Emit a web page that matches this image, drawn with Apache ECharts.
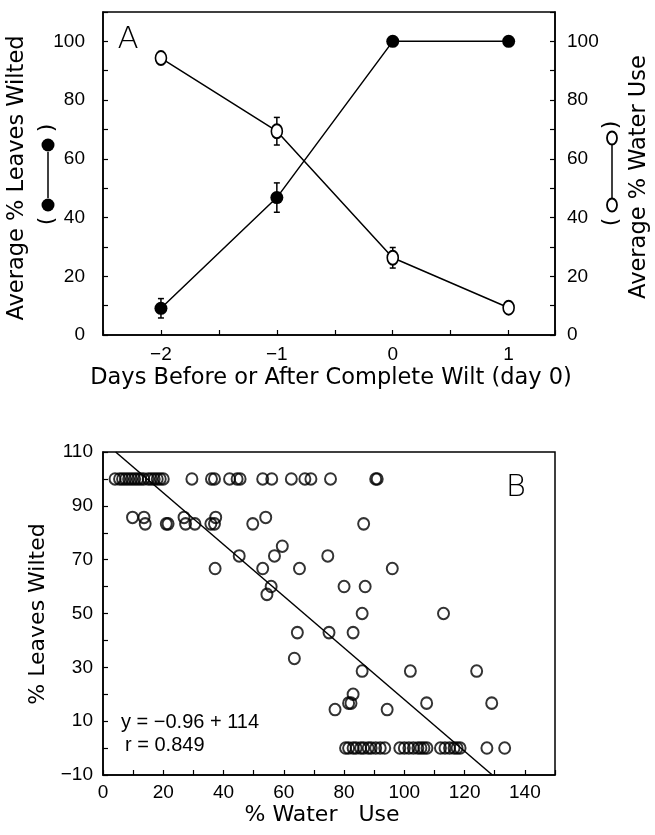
<!DOCTYPE html>
<html>
<head>
<meta charset="utf-8">
<script src="https://cdn.jsdelivr.net/npm/echarts@6/dist/echarts.min.js"></script>
<style>
  html, body { margin: 0; padding: 0; background: #fff; }
  #chart { width: 655px; height: 835px; }
</style>
</head>
<body>
<div id="chart"></div>
<script>
// panel A: days relative to complete wilt
const days = [-2, -1, 0, 1];
const avgWilted = [9.1, 46.8, 100, 100];
const avgWiltedErr = [3.3, 5, 0, 0];
const avgWaterUse = [94.3, 69.4, 26.3, 9.3];
const avgWaterUseErr = [0, 4.7, 3.5, 0];

// panel B: % leaves wilted levels and the % water use values seen at each level
const wiltLevels = [100, 85.7, 83.3, 75, 71.4, 66.7, 60, 57.1, 50, 42.9, 33.3, 28.6, 20, 16.7, 14.3, 0];
const waterUseByLevel = [
  [4, 5.5, 6.5, 7.5, 8.5, 9.5, 10.5, 11.5, 12.5, 13.5, 15, 16, 17, 18, 19, 20, 29.5, 36, 37, 42, 44.5, 45.5, 53, 56, 62.5, 67, 69, 75.5, 90.5, 91],
  [9.8, 13.6, 26.9, 37.4, 54],
  [14, 21, 21.6, 27.4, 30.5, 35.8, 37, 49.7, 86.5],
  [59.5],
  [45.2, 56.9, 74.6],
  [37.2, 53, 65.2, 96],
  [55.8, 80, 87],
  [54.4],
  [86, 113],
  [64.5, 75, 83],
  [63.5],
  [86, 102, 124],
  [83],
  [81.5, 82.3, 107.4, 129],
  [77, 94.3],
  [80.5, 81.5, 83, 84, 85.5, 86.5, 88, 89, 90.5, 92, 93.5, 98.5, 100, 101.5, 103, 104.5, 105.5, 106.5, 107.5,
   112, 113.5, 115, 116.5, 117.5, 118.5, 127.4, 133.3]
];
// regression line y = -0.96x + 114, endpoints where it meets the frame
const fitLine = [[4.2, 110], [129.2, -10]];

const chart = echarts.init(document.getElementById('chart'));

const tickFont = { color: '#000', fontSize: 19, fontFamily: 'Liberation Sans, Arial, sans-serif' };
const titleFont = 'DejaVu Sans, sans-serif';
const minus = v => String(v).replace('-', '\u2212');

const pointsB = [];
wiltLevels.forEach((lvl, i) => {
  waterUseByLevel[i].forEach(w => pointsB.push([w, lvl]));
});

const errRender = (params, api) => {
  const x = api.value(0);
  const lo = api.coord([x, api.value(1)]);
  const hi = api.coord([x, api.value(2)]);
  const st = { stroke: '#000', lineWidth: 1.5 };
  return {
    type: 'group',
    children: [
      { type: 'line', shape: { x1: lo[0], y1: lo[1], x2: hi[0], y2: hi[1] }, style: st },
      { type: 'line', shape: { x1: lo[0] - 3, y1: lo[1], x2: lo[0] + 3, y2: lo[1] }, style: st },
      { type: 'line', shape: { x1: hi[0] - 3, y1: hi[1], x2: hi[0] + 3, y2: hi[1] }, style: st }
    ]
  };
};

const errData = (ys, errs) => days
  .map((d, i) => [d, ys[i] - errs[i], ys[i] + errs[i]])
  .filter((r, i) => errs[i] > 0);

const axisLine = { show: true, onZero: false, lineStyle: { color: '#000', width: 1.5 } };
const tick = { show: true, inside: true, length: 5, lineStyle: { color: '#000', width: 1.2 } };

const option = {
  backgroundColor: '#fff',
  animation: false,
  grid: [
    { left: 103, right: 100, top: 12, height: 323, show: true, borderColor: '#000', borderWidth: 1.5 },
    { left: 103, right: 100, top: 452, height: 323, show: true, borderColor: '#000', borderWidth: 1.5 }
  ],
  xAxis: [
    {
      gridIndex: 0, type: 'value', min: -2.5, max: 1.4, interval: 0.5,
      axisLine, axisTick: tick, splitLine: { show: false },
      axisLabel: Object.assign({}, tickFont, {
        margin: 10,
        formatter: v => (Number.isInteger(v) ? minus(v) : '')
      })
    },
    {
      gridIndex: 1, type: 'value', min: 0, max: 150, interval: 10,
      axisLine, axisTick: tick, splitLine: { show: false },
      axisLabel: Object.assign({}, tickFont, {
        margin: 8,
        formatter: v => (v % 20 === 0 ? String(v) : '')
      })
    }
  ],
  yAxis: [
    {
      gridIndex: 0, type: 'value', min: 0, max: 110, interval: 10,
      axisLine, axisTick: tick, splitLine: { show: false },
      axisLabel: Object.assign({}, tickFont, {
        margin: 18,
        formatter: v => (v % 20 === 0 && v <= 100 ? String(v) : '')
      })
    },
    {
      gridIndex: 0, type: 'value', position: 'right', min: 0, max: 110, interval: 10,
      axisLine, axisTick: tick, splitLine: { show: false },
      axisLabel: Object.assign({}, tickFont, {
        margin: 12,
        formatter: v => (v % 20 === 0 && v <= 100 ? String(v) : '')
      })
    },
    {
      gridIndex: 1, type: 'value', min: -10, max: 110, interval: 10,
      axisLine, axisTick: tick, splitLine: { show: false },
      axisLabel: Object.assign({}, tickFont, {
        margin: 10,
        formatter: v => ((v + 10) % 20 === 0 ? minus(v) : '')
      })
    }
  ],
  series: [
    {
      type: 'custom', xAxisIndex: 0, yAxisIndex: 0, z: 1,
      renderItem: errRender, data: errData(avgWilted, avgWiltedErr)
    },
    {
      type: 'custom', xAxisIndex: 0, yAxisIndex: 1, z: 1,
      renderItem: errRender, data: errData(avgWaterUse, avgWaterUseErr)
    },
    {
      name: 'Leaves wilted', type: 'line', xAxisIndex: 0, yAxisIndex: 0, z: 3,
      data: days.map((d, i) => [d, avgWilted[i]]),
      symbol: 'circle', symbolSize: 13,
      itemStyle: { color: '#000' },
      lineStyle: { color: '#000', width: 1.5 }
    },
    {
      name: 'Water use', type: 'line', xAxisIndex: 0, yAxisIndex: 1, z: 3,
      data: days.map((d, i) => [d, avgWaterUse[i]]),
      symbol: 'circle', symbolSize: [11, 14],
      itemStyle: { color: '#fff', borderColor: '#000', borderWidth: 1.8 },
      lineStyle: { color: '#000', width: 1.5 }
    },
    {
      type: 'scatter', xAxisIndex: 1, yAxisIndex: 2, z: 3,
      data: pointsB, symbol: 'circle', symbolSize: [11, 11.5],
      itemStyle: { color: 'rgba(0,0,0,0)', borderColor: '#000', borderWidth: 2 }
    },
    {
      type: 'line', xAxisIndex: 1, yAxisIndex: 2, z: 2,
      data: fitLine, symbol: 'none',
      lineStyle: { color: '#000', width: 1.5 }
    }
  ],
  graphic: [
    // panel letters
    { type: 'text', x: 128, y: 40, style: { text: 'A', font: '200 31px ' + titleFont, fill: '#000', textAlign: 'center', textVerticalAlign: 'middle' } },
    { type: 'text', x: 516, y: 488, style: { text: 'B', font: '200 31px ' + titleFont, fill: '#000', textAlign: 'center', textVerticalAlign: 'middle' } },
    // axis titles
    { type: 'text', x: 17, y: 178, rotation: Math.PI / 2, style: { text: 'Average % Leaves Wilted', font: '22.5px ' + titleFont, fill: '#000', textAlign: 'center', textVerticalAlign: 'middle' } },
    { type: 'text', x: 639, y: 177, rotation: Math.PI / 2, style: { text: 'Average % Water Use', font: '22.5px ' + titleFont, fill: '#000', textAlign: 'center', textVerticalAlign: 'middle' } },
    { type: 'text', x: 331, y: 378, style: { text: 'Days Before or After Complete Wilt (day 0)', font: '22.5px ' + titleFont, fill: '#000', textAlign: 'center', textVerticalAlign: 'middle' } },
    { type: 'text', x: 38, y: 614, rotation: Math.PI / 2, style: { text: '% Leaves Wilted', font: '22px ' + titleFont, fill: '#000', textAlign: 'center', textVerticalAlign: 'middle' } },
    { type: 'text', x: 322, y: 815, style: { text: '% Water   Use', font: '22px ' + titleFont, fill: '#000', textAlign: 'center', textVerticalAlign: 'middle' } },
    // key for left axis: ( ●—● )
    { type: 'text', x: 47, y: 221, rotation: Math.PI / 2, style: { text: '(', font: '22px ' + titleFont, fill: '#000', textAlign: 'center', textVerticalAlign: 'middle' } },
    { type: 'text', x: 47, y: 128, rotation: Math.PI / 2, style: { text: ')', font: '22px ' + titleFont, fill: '#000', textAlign: 'center', textVerticalAlign: 'middle' } },
    { type: 'line', shape: { x1: 48, y1: 198, x2: 48, y2: 152 }, style: { stroke: '#000', lineWidth: 1.5 } },
    { type: 'circle', shape: { cx: 48, cy: 205, r: 6.5 }, style: { fill: '#000' } },
    { type: 'circle', shape: { cx: 48, cy: 145, r: 6.5 }, style: { fill: '#000' } },
    // key for right axis: ( o—o )
    { type: 'text', x: 611, y: 222, rotation: Math.PI / 2, style: { text: '(', font: '22px ' + titleFont, fill: '#000', textAlign: 'center', textVerticalAlign: 'middle' } },
    { type: 'text', x: 611, y: 125, rotation: Math.PI / 2, style: { text: ')', font: '22px ' + titleFont, fill: '#000', textAlign: 'center', textVerticalAlign: 'middle' } },
    { type: 'line', shape: { x1: 612, y1: 198, x2: 612, y2: 144 }, style: { stroke: '#000', lineWidth: 1.5 } },
    { type: 'ellipse', shape: { cx: 612, cy: 205, rx: 5, ry: 6.5 }, style: { fill: '#fff', stroke: '#000', lineWidth: 1.8 } },
    { type: 'ellipse', shape: { cx: 612, cy: 138, rx: 5, ry: 6.5 }, style: { fill: '#fff', stroke: '#000', lineWidth: 1.8 } },
    // regression text
    { type: 'text', x: 121, y: 722, style: { text: 'y = \u22120.96 + 114', font: '20px Liberation Sans, Arial, sans-serif', fill: '#000', textVerticalAlign: 'middle' } },
    { type: 'text', x: 125, y: 745, style: { text: 'r = 0.849', font: '20px Liberation Sans, Arial, sans-serif', fill: '#000', textVerticalAlign: 'middle' } }
  ]
};

chart.setOption(option);
</script>
</body>
</html>
